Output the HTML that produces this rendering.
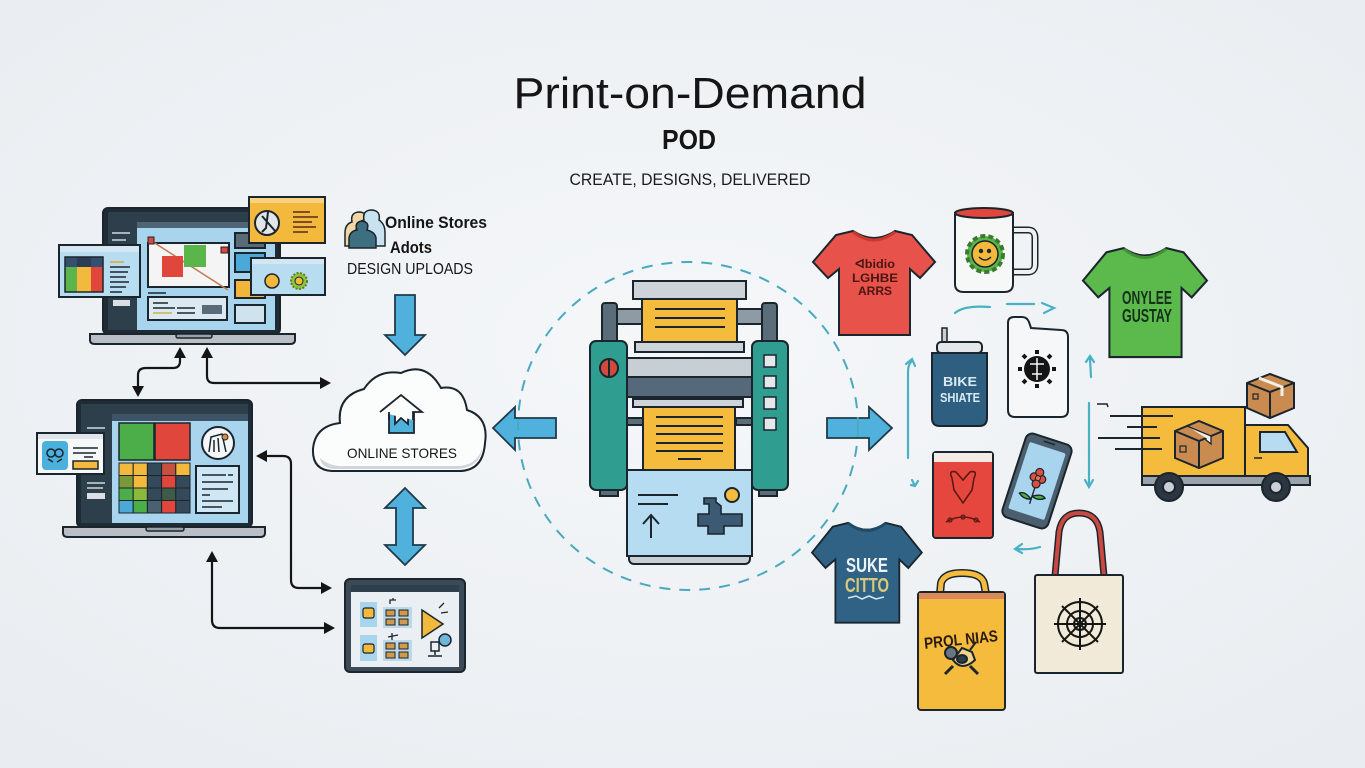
<!DOCTYPE html>
<html><head><meta charset="utf-8"><style>
html,body{margin:0;padding:0;background:#eef1f4;}
svg{display:block;}
text{font-family:"Liberation Sans",sans-serif;}
</style></head><body>
<svg width="1365" height="768" viewBox="0 0 1365 768" xmlns="http://www.w3.org/2000/svg">
<defs>
<radialGradient id="bg" cx="50%" cy="45%" r="70%">
<stop offset="0" stop-color="#f5f7f9"/><stop offset="1" stop-color="#e9edf1"/>
</radialGradient>
<path id="shirt" d="M40,3 Q61,17 82,3 L99,7 L122,34 L107,50 L97,41 L97,107 L26,107 L26,41 L15,50 L0,34 L23,7 Z"/>
</defs>
<rect width="1365" height="768" fill="url(#bg)"/>

<!-- Titles -->
<text x="690" y="108" text-anchor="middle" font-size="44" fill="#151515" textLength="353" lengthAdjust="spacingAndGlyphs">Print-on-Demand</text>
<text x="689" y="149" text-anchor="middle" font-size="28" font-weight="bold" fill="#151515" textLength="54" lengthAdjust="spacingAndGlyphs">POD</text>
<text x="690" y="185" text-anchor="middle" font-size="17" fill="#1a1a1a" textLength="241" lengthAdjust="spacingAndGlyphs">CREATE, DESIGNS, DELIVERED</text>

<!-- ============ LAPTOP 1 ============ -->
<g stroke="#1b252d" stroke-width="2">
<rect x="103" y="208" width="177" height="126" rx="5" fill="#1f2b35"/>
<rect x="108" y="212" width="167" height="10" fill="#2e3f4c" stroke="none"/>
<rect x="108" y="222" width="29" height="108" fill="#2e3f4c" stroke="none"/>
<rect x="137" y="222" width="138" height="108" fill="#a8d4ee" stroke="none"/>
<rect x="137" y="222" width="138" height="6" fill="#4d6577" stroke="none"/>
<line x1="112" y1="233" x2="130" y2="233" stroke="#cfd8df" stroke-width="1.5"/>
<line x1="112" y1="240" x2="126" y2="240" stroke="#cfd8df" stroke-width="1.5"/>
<rect x="113" y="300" width="17" height="6" fill="#d9dfe4" stroke="none"/>
<rect x="148" y="243" width="81" height="44" fill="#f3f4f3"/>
<line x1="150" y1="240" x2="228" y2="290" stroke="#c27a52" stroke-width="1.5"/>
<rect x="162" y="256" width="21" height="21" fill="#e1463d" stroke="none"/>
<rect x="184" y="245" width="22" height="22" fill="#5ab54a" stroke="none"/>
<rect x="148" y="237" width="6" height="7" fill="#e1463d" stroke-width="1"/>
<rect x="221" y="247" width="7" height="6" fill="#e1463d" stroke-width="1"/>
<rect x="235" y="233" width="30" height="15" fill="#5a6b78"/>
<rect x="235" y="253" width="30" height="19" fill="#4ba9d8"/>
<rect x="235" y="280" width="30" height="18" fill="#f2b53b"/>
<rect x="235" y="305" width="30" height="18" fill="#cfe3ef"/>
<line x1="148" y1="293" x2="166" y2="293" stroke-width="1.5"/>
<rect x="148" y="297" width="79" height="23" fill="#dde9f1"/>
<line x1="153" y1="303" x2="168" y2="303" stroke-width="1.5"/>
<line x1="153" y1="308" x2="175" y2="308" stroke-width="1.5"/>
<line x1="177" y1="308" x2="195" y2="308" stroke-width="1.5"/>
<line x1="153" y1="313" x2="172" y2="313" stroke="#c9b24a" stroke-width="1.5"/>
<line x1="177" y1="313" x2="195" y2="313" stroke-width="1.5"/>
<rect x="202" y="305" width="20" height="9" fill="#5a6b78" stroke="none"/>
<path d="M90,334 L295,334 L295,340 Q295,344 290,344 L95,344 Q90,344 90,340 Z" fill="#b9bfc5"/>
<rect x="176" y="334" width="36" height="4" rx="2" fill="#9aa2a9" stroke-width="1.5"/>
<!-- left popup -->
<rect x="59" y="245" width="81" height="52" fill="#b8dcf0"/>
<rect x="60" y="246" width="79" height="6" fill="#d3e6f1" stroke="none"/>
<rect x="65" y="257" width="38" height="10" fill="#34506e" stroke="none"/>
<rect x="77" y="257" width="14" height="10" fill="#2a3d52" stroke="none"/>
<rect x="65" y="267" width="12" height="25" fill="#5ab54a" stroke="none"/>
<rect x="77" y="267" width="14" height="25" fill="#f3b93c" stroke="none"/>
<rect x="91" y="267" width="12" height="25" fill="#e1463d" stroke="none"/>
<rect x="65" y="257" width="38" height="35" fill="none" stroke-width="1.5"/>
<line x1="110" y1="262" x2="124" y2="262" stroke="#e0a630" stroke-width="1.5"/>
<line x1="110" y1="267" x2="130" y2="267" stroke-width="1.5"/>
<line x1="110" y1="272" x2="128" y2="272" stroke-width="1.5"/>
<line x1="110" y1="277" x2="126" y2="277" stroke-width="1.5"/>
<line x1="110" y1="282" x2="129" y2="282" stroke-width="1.5"/>
<line x1="110" y1="287" x2="126" y2="287" stroke-width="1.5"/>
<line x1="110" y1="292" x2="122" y2="292" stroke-width="1.5"/>
<!-- yellow popup -->
<line x1="279" y1="243" x2="279" y2="258" stroke-width="3"/>
<rect x="249" y="197" width="76" height="46" fill="#f3b93c"/>
<rect x="250" y="198" width="74" height="5" fill="#f7d27f" stroke="none"/>
<circle cx="267" cy="223" r="12" fill="#e3e6e8"/>
<path d="M262,216 L276,232 M268,212 L266,228 L262,232" fill="none" stroke-width="2"/>
<line x1="293" y1="212" x2="310" y2="212" stroke="#5a2b1a" stroke-width="1.5"/>
<line x1="293" y1="217" x2="318" y2="217" stroke="#5a2b1a" stroke-width="1.5"/>
<line x1="293" y1="222" x2="312" y2="222" stroke="#5a2b1a" stroke-width="1.5"/>
<line x1="293" y1="227" x2="316" y2="227" stroke="#5a2b1a" stroke-width="1.5"/>
<line x1="293" y1="232" x2="308" y2="232" stroke="#5a2b1a" stroke-width="1.5"/>
<!-- blue popup -->
<rect x="251" y="258" width="74" height="37" fill="#b8dcf0"/>
<rect x="252" y="259" width="72" height="5" fill="#d3e6f1" stroke="none"/>
<circle cx="272" cy="281" r="7" fill="#f3b93c" stroke-width="1.5"/>
<circle cx="299" cy="281" r="8" fill="#8cc63f" stroke="#6b7a20" stroke-width="2" stroke-dasharray="2 1.5"/>
<circle cx="299" cy="281" r="4" fill="#f3b93c" stroke-width="1"/>
</g>

<!-- ============ LAPTOP 2 ============ -->
<g stroke="#1b252d" stroke-width="2">
<rect x="77" y="400" width="175" height="127" rx="5" fill="#1f2b35"/>
<rect x="81" y="404" width="167" height="10" fill="#2e3f4c" stroke="none"/>
<rect x="81" y="414" width="31" height="109" fill="#2e3f4c" stroke="none"/>
<line x1="87" y1="428" x2="105" y2="428" stroke="#cfd8df" stroke-width="1.5"/>
<line x1="87" y1="483" x2="105" y2="483" stroke="#cfd8df" stroke-width="1.5"/>
<line x1="87" y1="488" x2="103" y2="488" stroke="#cfd8df" stroke-width="1.5"/>
<rect x="87" y="493" width="18" height="6" fill="#d9dfe4" stroke="none"/>
<rect x="112" y="414" width="136" height="109" fill="#a8d4ee" stroke="none"/>
<rect x="112" y="414" width="136" height="7" fill="#3d5468" stroke="none"/>
<rect x="119" y="423" width="35" height="37" fill="#4cae48" stroke-width="1.5"/>
<rect x="155" y="423" width="35" height="37" fill="#e1463d" stroke-width="1.5"/>
<g stroke-width="1">
<rect x="119" y="463" width="14.2" height="12.5" fill="#f3b93c"/><rect x="133.2" y="463" width="14.2" height="12.5" fill="#f3b93c"/><rect x="147.4" y="463" width="14.2" height="12.5" fill="#34495a"/><rect x="161.6" y="463" width="14.2" height="12.5" fill="#c9503e"/><rect x="175.8" y="463" width="14.2" height="12.5" fill="#f3b93c"/>
<rect x="119" y="475.5" width="14.2" height="12.5" fill="#7a9a3a"/><rect x="133.2" y="475.5" width="14.2" height="12.5" fill="#f3b93c"/><rect x="147.4" y="475.5" width="14.2" height="12.5" fill="#34495a"/><rect x="161.6" y="475.5" width="14.2" height="12.5" fill="#e1463d"/><rect x="175.8" y="475.5" width="14.2" height="12.5" fill="#34495a"/>
<rect x="119" y="488" width="14.2" height="12.5" fill="#4cae48"/><rect x="133.2" y="488" width="14.2" height="12.5" fill="#8cb83e"/><rect x="147.4" y="488" width="14.2" height="12.5" fill="#34495a"/><rect x="161.6" y="488" width="14.2" height="12.5" fill="#3e5a48"/><rect x="175.8" y="488" width="14.2" height="12.5" fill="#34495a"/>
<rect x="119" y="500.5" width="14.2" height="12.5" fill="#4ba9d8"/><rect x="133.2" y="500.5" width="14.2" height="12.5" fill="#4cae48"/><rect x="147.4" y="500.5" width="14.2" height="12.5" fill="#4b6170"/><rect x="161.6" y="500.5" width="14.2" height="12.5" fill="#e1463d"/><rect x="175.8" y="500.5" width="14.2" height="12.5" fill="#34495a"/>
</g>
<circle cx="218" cy="443" r="16" fill="#f4f6f7"/>
<path d="M209,452 L211,437 L222,434 L226,452 M214,440 L214,452 M218,438 L219,452" fill="none" stroke-width="1.5"/>
<circle cx="225" cy="437" r="3" fill="#e08a3a" stroke-width="1"/>
<rect x="196" y="466" width="43" height="47" fill="#cfe6f4"/>
<line x1="202" y1="475" x2="226" y2="475" stroke-width="1.5"/><line x1="228" y1="475" x2="233" y2="475" stroke-width="1.5"/>
<line x1="202" y1="482" x2="233" y2="482" stroke-width="1.5"/>
<line x1="202" y1="489" x2="228" y2="489" stroke-width="1.5"/>
<line x1="202" y1="495" x2="210" y2="495" stroke-width="1.5"/>
<line x1="202" y1="501" x2="233" y2="501" stroke-width="1.5"/>
<line x1="202" y1="507" x2="222" y2="507" stroke-width="1.5"/>
<path d="M63,527 L265,527 L265,533 Q265,537 260,537 L68,537 Q63,537 63,533 Z" fill="#b9bfc5"/>
<rect x="146" y="527" width="38" height="4" rx="2" fill="#9aa2a9" stroke-width="1.5"/>
<rect x="37" y="433" width="67" height="41" fill="#f6f7f8"/>
<rect x="38" y="434" width="65" height="5" fill="#dfe5ea" stroke="none"/>
<rect x="42" y="441" width="26" height="29" rx="4" fill="#4bb0dc" stroke="none"/>
<circle cx="51" cy="453" r="4" fill="none" stroke-width="1.5"/><circle cx="59" cy="453" r="4" fill="none" stroke-width="1.5"/>
<path d="M48,459 L53,462 M62,459 L57,462" stroke-width="1.5"/>
<line x1="73" y1="448" x2="98" y2="448" stroke-width="1.5"/>
<line x1="73" y1="453" x2="96" y2="453" stroke-width="1.5"/>
<line x1="84" y1="457" x2="93" y2="457" stroke-width="1.5"/>
<rect x="73" y="461" width="25" height="8" fill="#f3b93c" stroke-width="1.5"/>
</g>

<!-- ============ connectors (black) ============ -->
<g fill="none" stroke="#151515" stroke-width="2.2">
<path d="M180,356 L180,361 Q180,368 173,368 L146,368 Q138,368 138,375 L138,388"/>
<path d="M207,356 L207,376 Q207,383 214,383 L321,383"/>
<path d="M264,456 L283,456 Q291,456 291,464 L291,580 Q291,588 299,588 L322,588"/>
<path d="M212,560 L212,620 Q212,628 220,628 L325,628"/>
</g>
<g fill="#151515">
<path d="M180,347 L186,358 L174,358 Z"/>
<path d="M138,397 L132,386 L144,386 Z"/>
<path d="M207,347 L213,358 L201,358 Z"/>
<path d="M331,383 L320,377 L320,389 Z"/>
<path d="M256,456 L267,450 L267,462 Z"/>
<path d="M332,588 L321,582 L321,594 Z"/>
<path d="M212,551 L218,562 L206,562 Z"/>
<path d="M335,628 L324,622 L324,634 Z"/>
</g>

<!-- ============ labels top ============ -->
<g stroke="#1b252d" stroke-width="1.5">
<path d="M345,246 L345,233 Q345,224 352,222 Q350,212 360,212 Q368,213 366,222 Q372,225 372,234 L372,246 Z" fill="#f2d7a5"/>
<path d="M356,246 L356,232 Q356,222 364,220 Q362,210 372,210 Q381,211 379,220 Q385,224 385,232 L385,246 Z" fill="#c9e2ef"/>
<path d="M349,248 L349,238 Q350,231 357,230 Q354,222 362,221 Q370,222 367,230 Q375,232 376,238 L376,248 Z" fill="#3d6f80"/>
</g>
<text x="385" y="228" font-size="17" font-weight="bold" fill="#151515" textLength="102" lengthAdjust="spacingAndGlyphs">Online Stores</text>
<text x="390" y="253" font-size="17" font-weight="bold" fill="#151515" textLength="42" lengthAdjust="spacingAndGlyphs">Adots</text>
<text x="347" y="274" font-size="16" fill="#151515" textLength="126" lengthAdjust="spacingAndGlyphs">DESIGN UPLOADS</text>

<!-- ============ blue arrows ============ -->
<g fill="#4fb1dc" stroke="#1f3a4a" stroke-width="1.8" stroke-linejoin="miter">
<polygon points="395,295 415,295 415,335 425,335 405,355 385,335 395,335"/>
<polygon points="405,488 425,508 413,508 413,545 425,545 405,565 385,545 396,545 396,508 385,508"/>
<polygon points="493,428 515,407 515,418 556,418 556,438 515,438 515,450"/>
<polygon points="827,418 869,418 869,407 892,428 869,450 869,438 827,438"/>
</g>

<!-- ============ cloud ============ -->
<path d="M332,471 Q312,470 313,449 Q315,426 340,423 Q337,396 364,389 Q377,369 401,373 Q426,361 441,388 Q463,384 467,410 Q489,417 485,443 Q483,471 459,471 Z" fill="#fbfcfc" stroke="#1b252d" stroke-width="2"/>
<path d="M320,458 Q330,467 345,466 L460,466 Q478,464 482,448 Q481,466 459,469 L333,469 Q321,467 320,458 Z" fill="#cfd5da"/>
<g stroke="#1b252d" stroke-width="1.8">
<path d="M389,412 L389,433 L414,433 L414,412 L408,412 L408,424 L401,418 L395,424 L395,412 Z" fill="#4fb1dc"/>
<path d="M380,412 L401,395 L422,412 L413,412 L413,420 M389,420 L389,412 Z" fill="#fbfcfc"/>
</g>
<text x="402" y="458" text-anchor="middle" font-size="14" fill="#151515" textLength="110" lengthAdjust="spacingAndGlyphs">ONLINE STORES</text>

<!-- ============ tablet ============ -->
<g stroke="#1b252d" stroke-width="2">
<rect x="345" y="579" width="120" height="93" rx="5" fill="#3b4a56"/>
<rect x="351" y="585" width="108" height="82" fill="#eaeff3" stroke="none"/>
<rect x="351" y="585" width="108" height="7" fill="#2e3f4c" stroke="none"/>
<rect x="360" y="602" width="17" height="25" fill="#a8d4ee" stroke="none"/>
<rect x="363" y="608" width="11" height="10" rx="2" fill="#f3b93c" stroke-width="1.2"/>
<rect x="360" y="635" width="17" height="26" fill="#a8d4ee" stroke="none"/>
<rect x="363" y="644" width="11" height="9" rx="2" fill="#f3b93c" stroke-width="1.2"/>
<rect x="383" y="607" width="29" height="21" fill="#bcd9ea" stroke="none"/>
<rect x="383" y="640" width="29" height="21" fill="#bcd9ea" stroke="none"/>
<g stroke-width="1" fill="#d09a4a">
<rect x="386" y="610" width="9" height="6"/><rect x="399" y="610" width="9" height="6"/><rect x="386" y="619" width="9" height="6"/><rect x="399" y="619" width="9" height="6"/>
<rect x="386" y="643" width="9" height="6"/><rect x="399" y="643" width="9" height="6"/><rect x="386" y="652" width="9" height="6"/><rect x="399" y="652" width="9" height="6"/>
</g>
<path d="M390,604 L390,600 L396,600 M393,600 L393,598" fill="none" stroke-width="1.3"/>
<path d="M388,637 L398,635 M392,633 L392,640" fill="none" stroke-width="1.3"/>
<polygon points="422,610 443,624 422,638" fill="#f3b93c" stroke-width="1.5"/>
<path d="M439,608 L444,603 M441,613 L448,612" stroke-width="1.3"/>
<circle cx="445" cy="640" r="6" fill="#6fb6d9" stroke-width="1.5"/>
<path d="M431,642 L439,642 L439,651 L431,651 Z M435,651 L435,655 M428,656 L442,656" fill="none" stroke-width="1.5"/>
</g>

<!-- ============ dashed circle ============ -->
<ellipse cx="688" cy="426" rx="170" ry="164" fill="none" stroke="#4aa9bf" stroke-width="2" stroke-dasharray="11 9"/>

<!-- ============ printer ============ -->
<g stroke="#1b252d" stroke-width="2">
<rect x="602" y="303" width="15" height="42" rx="3" fill="#5c6d7a"/>
<rect x="762" y="303" width="15" height="42" rx="3" fill="#5c6d7a"/>
<rect x="617" y="309" width="25" height="15" fill="#8e9aa4"/>
<rect x="737" y="309" width="25" height="15" fill="#8e9aa4"/>
<rect x="642" y="299" width="95" height="45" fill="#f4bb3d"/>
<line x1="655" y1="309" x2="725" y2="309"/><line x1="655" y1="318" x2="725" y2="318"/><line x1="655" y1="327" x2="725" y2="327"/>
<rect x="633" y="281" width="113" height="18" fill="#cdd3d8"/>
<rect x="635" y="342" width="109" height="10" fill="#cdd3d8"/>
<rect x="600" y="485" width="18" height="11" fill="#5c6d7a"/>
<rect x="759" y="485" width="18" height="11" fill="#5c6d7a"/>
<rect x="627" y="358" width="125" height="19" fill="#c7ced4"/>
<rect x="627" y="377" width="125" height="20" fill="#56697a"/>
<rect x="633" y="399" width="110" height="8" fill="#cdd3d8"/>
<rect x="627" y="418" width="16" height="7" fill="#5c6d7a"/>
<rect x="736" y="418" width="16" height="7" fill="#5c6d7a"/>
<rect x="643" y="407" width="92" height="63" fill="#f4bb3d"/>
<line x1="656" y1="417" x2="723" y2="417"/><line x1="656" y1="426" x2="723" y2="426"/><line x1="656" y1="434" x2="723" y2="434"/><line x1="656" y1="443" x2="723" y2="443"/><line x1="656" y1="451" x2="723" y2="451"/>
<line x1="678" y1="459" x2="701" y2="459"/>
<rect x="590" y="341" width="37" height="149" rx="6" fill="#2f9e90"/>
<rect x="752" y="341" width="36" height="149" rx="6" fill="#2f9e90"/>
<circle cx="609" cy="368" r="9" fill="#d24a3b"/>
<line x1="609" y1="360" x2="609" y2="376"/>
<rect x="764" y="355" width="12" height="12" fill="#e5e8ea" stroke-width="1.5"/>
<rect x="764" y="376" width="12" height="12" fill="#e5e8ea" stroke-width="1.5"/>
<rect x="764" y="397" width="12" height="12" fill="#e5e8ea" stroke-width="1.5"/>
<rect x="764" y="418" width="12" height="12" fill="#e5e8ea" stroke-width="1.5"/>
<rect x="629" y="552" width="121" height="12" rx="5" fill="#c7ced4"/>
<rect x="627" y="470" width="125" height="86" fill="#b6dcf2"/>
<line x1="638" y1="495" x2="678" y2="495"/>
<line x1="638" y1="504" x2="668" y2="504"/>
<path d="M651,538 L651,516 M643,524 L651,515 L659,524" fill="none"/>
<circle cx="732" cy="495" r="7" fill="#f4bb3d"/>
<path d="M704,498 L716,498 L716,502 L721,506 L721,514 L742,514 L742,526 L724,526 L724,534 L708,534 L708,526 L698,526 L698,514 L709,514 L709,504 L704,504 Z" fill="#3c5a74" stroke-width="1.6"/>
</g>

<!-- ============ right products ============ -->
<!-- red shirt -->
<g stroke="#1b252d" stroke-width="2">
<use href="#shirt" transform="translate(813,228)" fill="#e7534a"/>
<path d="M853,232 Q874,248 895,232" fill="none" stroke="#c9392f" stroke-width="3"/>
</g>
<g fill="#4a1613" font-size="12" font-weight="bold" text-anchor="middle">
<text x="875" y="268" textLength="40" lengthAdjust="spacingAndGlyphs">ᐊbidio</text>
<text x="875" y="282" textLength="46" lengthAdjust="spacingAndGlyphs">LGHBE</text>
<text x="875" y="295" textLength="34" lengthAdjust="spacingAndGlyphs">ARRS</text>
</g>
<!-- mug -->
<g stroke="#1b252d" stroke-width="2">
<path d="M1013,230 L1028,230 Q1035,230 1035,238 L1035,264 Q1035,272 1028,272 L1013,272" fill="none" stroke-width="7" stroke="#1b252d"/>
<path d="M1013,230 L1028,230 Q1035,230 1035,238 L1035,264 Q1035,272 1028,272 L1013,272" fill="none" stroke-width="4" stroke="#eef0f1"/>
<path d="M955,213 L955,284 Q955,292 964,292 L1004,292 Q1013,292 1013,284 L1013,213 Z" fill="#f6f7f7"/>
<ellipse cx="984" cy="213" rx="29" ry="5" fill="#e1463d"/>
<circle cx="985" cy="254" r="18" fill="#5ab54a" stroke="#3b7a2f" stroke-width="4" stroke-dasharray="5 3"/>
<circle cx="985" cy="254" r="13" fill="#f3b93c" stroke-width="1.5"/>
<path d="M979,257 Q985,263 991,257" fill="none" stroke-width="1.5"/>
<circle cx="981" cy="251" r="1.2" fill="#1b252d"/><circle cx="989" cy="251" r="1.2" fill="#1b252d"/>
</g>
<!-- green shirt -->
<g stroke="#1b252d" stroke-width="2">
<use href="#shirt" transform="translate(1083,245) scale(1.016,1.047)" fill="#5cba4c"/>
<path d="M1124,249 Q1145,266 1166,249" fill="none" stroke="#3f9334" stroke-width="3"/>
</g>
<text x="1147" y="304" text-anchor="middle" font-size="18" font-weight="bold" fill="#15301a" textLength="50" lengthAdjust="spacingAndGlyphs">ONYLEE</text>
<text x="1147" y="322" text-anchor="middle" font-size="18" font-weight="bold" fill="#15301a" textLength="50" lengthAdjust="spacingAndGlyphs">GUSTAY</text>
<!-- tumbler -->
<g stroke="#1b252d" stroke-width="2">
<rect x="942" y="328" width="5" height="22" fill="#c9d0d5" stroke-width="1.5"/>
<rect x="937" y="342" width="45" height="11" rx="4" fill="#e3e7ea"/>
<path d="M932,353 L987,353 L987,418 Q987,426 979,426 L940,426 Q932,426 932,418 Z" fill="#2e5f80"/>
</g>
<text x="960" y="386" text-anchor="middle" font-size="13" font-weight="bold" fill="#d9eaf4" textLength="34" lengthAdjust="spacingAndGlyphs">BIKE</text>
<text x="960" y="402" text-anchor="middle" font-size="13" font-weight="bold" fill="#d9eaf4" textLength="40" lengthAdjust="spacingAndGlyphs">SHIATE</text>
<!-- phone case -->
<g stroke="#1b252d" stroke-width="2">
<path d="M1014,317 L1022,317 Q1027,317 1029,322 L1031,328 L1061,330 Q1068,330 1068,337 L1068,410 Q1068,417 1061,417 L1015,417 Q1008,417 1008,410 L1008,323 Q1008,317 1014,317 Z" fill="#f6f7f8"/>
<circle cx="1037" cy="369" r="13" fill="#151515" stroke="none"/>
<g stroke="#151515" stroke-width="4">
<line x1="1037" y1="350" x2="1037" y2="354"/><line x1="1037" y1="384" x2="1037" y2="388"/>
<line x1="1018" y1="369" x2="1022" y2="369"/><line x1="1052" y1="369" x2="1056" y2="369"/>
<line x1="1023" y1="355" x2="1026" y2="358"/><line x1="1048" y1="380" x2="1051" y2="383"/>
<line x1="1051" y1="355" x2="1048" y2="358"/><line x1="1023" y1="383" x2="1026" y2="380"/>
</g>
<path d="M1030,364 L1044,364 M1037,358 L1037,380 M1032,374 L1042,374" stroke="#f6f7f8" stroke-width="1.5"/>
</g>
<!-- red notebook -->
<g stroke="#1b252d" stroke-width="2">
<rect x="933" y="452" width="60" height="86" rx="3" fill="#e5473e"/>
<rect x="934" y="453" width="58" height="9" fill="#f2ece4" stroke="none"/>
<path d="M952,478 Q948,470 956,472 L963,480 L970,472 Q978,470 974,478 L972,490 L963,503 L954,490 Z" fill="none" stroke="#5a1a14" stroke-width="1.6"/>
<path d="M946,522 Q963,512 980,522" fill="none" stroke="#5a1a14" stroke-width="1.6"/>
<circle cx="950" cy="520" r="2" fill="none" stroke="#5a1a14" stroke-width="1.2"/><circle cx="963" cy="517" r="2" fill="none" stroke="#5a1a14" stroke-width="1.2"/><circle cx="976" cy="520" r="2" fill="none" stroke="#5a1a14" stroke-width="1.2"/>
</g>
<!-- phone -->
<g transform="rotate(18 1037 481)" stroke="#1b252d" stroke-width="2">
<rect x="1013" y="437" width="48" height="88" rx="7" fill="#4a5e6e"/>
<rect x="1018" y="446" width="38" height="70" rx="2" fill="#a8d4ee" stroke="none"/>
<line x1="1031" y1="441" x2="1043" y2="441" stroke-width="1.5"/>
<path d="M1037,488 L1037,505 M1037,500 Q1028,494 1024,498 Q1030,503 1037,500 M1037,497 Q1046,491 1050,495 Q1044,500 1037,497" fill="#4cae48" stroke-width="1.4"/>
<circle cx="1033" cy="478" r="4" fill="#d95040" stroke-width="1.2"/><circle cx="1041" cy="478" r="4" fill="#d95040" stroke-width="1.2"/><circle cx="1037" cy="472" r="4" fill="#d95040" stroke-width="1.2"/><circle cx="1037" cy="484" r="4" fill="#d95040" stroke-width="1.2"/><circle cx="1037" cy="478" r="2.5" fill="#e57a5a" stroke-width="1"/>
</g>
<!-- truck -->
<g stroke="#1b252d" stroke-width="2">
<path d="M1245,425 L1288,425 L1308,448 L1308,476 L1245,476 Z" fill="#f4bb3d"/>
<path d="M1260,432 L1285,432 L1297,452 L1260,452 Z" fill="#b7dcf2"/>
<line x1="1254" y1="458" x2="1262" y2="458" stroke-width="1.5"/>
<rect x="1142" y="407" width="103" height="69" fill="#f4bb3d"/>
<rect x="1142" y="476" width="168" height="9" fill="#9aa3ab"/>
<circle cx="1169" cy="487" r="14" fill="#2b3640"/><circle cx="1169" cy="487" r="6" fill="#c9cfd4"/>
<circle cx="1276" cy="487" r="14" fill="#2b3640"/><circle cx="1276" cy="487" r="6" fill="#c9cfd4"/>
<path d="M1175,431 L1199,421 L1223,431 L1223,458 L1199,468 L1175,458 Z" fill="#c98b4f"/>
<path d="M1175,431 L1199,441 L1223,431 M1199,441 L1199,468" fill="none"/>
<path d="M1187,426 L1211,436 L1211,444 L1206,440 L1206,438" fill="#f4f0e8" stroke-width="1.3"/>
<rect x="1180" y="446" width="6" height="6" fill="none" stroke-width="1.2"/>
<path d="M1247,383 L1270,374 L1294,383 L1294,408 L1270,418 L1247,408 Z" fill="#c98b4f"/>
<path d="M1247,383 L1270,392 L1294,383 M1270,392 L1270,418" fill="none"/>
<path d="M1259,378 L1282,387 L1282,396" fill="none" stroke="#f4f0e8" stroke-width="3"/>
<rect x="1253" y="394" width="5" height="5" fill="none" stroke-width="1.2"/>
</g>
<g stroke="#1b252d" stroke-width="2">
<line x1="1110" y1="416" x2="1173" y2="416"/>
<line x1="1127" y1="427" x2="1157" y2="427"/>
<line x1="1098" y1="438" x2="1160" y2="438"/>
<line x1="1115" y1="449" x2="1162" y2="449"/>
<path d="M1097,404 L1107,404 L1108,407" fill="none" stroke-width="1.5"/>
</g>
<!-- blue shirt -->
<g stroke="#1b252d" stroke-width="2">
<use href="#shirt" transform="translate(812,520) scale(0.9,0.96)" fill="#2f6284"/>
<path d="M848,523 Q867,538 886,523" fill="none" stroke="#204a66" stroke-width="3"/>
</g>
<text x="867" y="572" text-anchor="middle" font-size="20" font-weight="bold" fill="#eef2f4" textLength="42" lengthAdjust="spacingAndGlyphs">SUKE</text>
<text x="867" y="592" text-anchor="middle" font-size="20" font-weight="bold" fill="#d9c97c" textLength="44" lengthAdjust="spacingAndGlyphs">CITTO</text>
<path d="M848,598 L856,596 L862,599 L869,596 L876,599 L884,597" fill="none" stroke="#d9e6ee" stroke-width="1.5"/>
<!-- tote bag -->
<g stroke="#1b252d" stroke-width="2">
<path d="M1055,576 L1059,532 Q1062,513 1079,513 Q1097,513 1100,532 L1104,576" fill="none" stroke="#1b252d" stroke-width="7"/>
<path d="M1055,576 L1059,532 Q1062,513 1079,513 Q1097,513 1100,532 L1104,576" fill="none" stroke="#c9483f" stroke-width="4"/>
<rect x="1035" y="575" width="88" height="98" rx="2" fill="#f1ead8"/>
<g fill="none" stroke="#151515" stroke-width="2">
<circle cx="1080" cy="624" r="22"/><circle cx="1080" cy="624" r="13"/><circle cx="1080" cy="624" r="6"/>
<line x1="1054" y1="624" x2="1106" y2="624"/><line x1="1080" y1="598" x2="1080" y2="650"/>
<line x1="1062" y1="606" x2="1098" y2="642"/><line x1="1098" y1="606" x2="1062" y2="642"/>
</g>
</g>
<!-- yellow bag -->
<g stroke="#1b252d" stroke-width="2">
<path d="M940,594 L941,583 Q944,573 962,573 Q981,573 984,583 L986,594" fill="none" stroke="#1b252d" stroke-width="8"/>
<path d="M940,594 L941,583 Q944,573 962,573 Q981,573 984,583 L986,594" fill="none" stroke="#f4bb3d" stroke-width="5"/>
<rect x="918" y="592" width="87" height="118" rx="3" fill="#f4bb3d"/>
<rect x="919" y="593" width="85" height="6" fill="#d98a5a" stroke="none"/>
<circle cx="951" cy="653" r="6" fill="#6a7782"/>
<path d="M953,660 Q962,672 975,660 L972,652 L962,648 Z" fill="#f2d48a"/>
<ellipse cx="962" cy="659" rx="5" ry="4" fill="#2d3a48"/>
<line x1="945" y1="674" x2="953" y2="666" stroke-width="3"/>
<line x1="978" y1="674" x2="970" y2="666" stroke-width="3"/>
<line x1="970" y1="650" x2="976" y2="642" stroke-width="2"/>
</g>
<text x="961" y="645" text-anchor="middle" font-size="16" font-weight="bold" fill="#2a1a10" textLength="74" lengthAdjust="spacingAndGlyphs" transform="rotate(-6 961 640)">PROL NIAS</text>

<!-- teal flow arrows right -->
<g fill="none" stroke="#4ab0c4" stroke-width="2.2" stroke-linecap="round">
<path d="M955,313 Q964,305 990,307"/>
<path d="M1007,304 L1034,304"/>
<path d="M1042,303 L1054,308 L1044,313"/>
<path d="M908,458 L908,372 Q908,364 912,361"/>
<path d="M906,364 L912,359 L915,366"/>
<path d="M912,480 L915,486 M918,481 L915,486 L911,485"/>
<path d="M1091,377 L1090,358"/>
<path d="M1086,362 L1090,356 L1094,362"/>
<path d="M1089,403 L1089,486"/>
<path d="M1085,480 L1089,487 L1093,480"/>
<path d="M1040,547 Q1030,550 1016,549"/>
<path d="M1022,544 L1015,549 L1022,553"/>
</g>
</svg>
</body></html>
